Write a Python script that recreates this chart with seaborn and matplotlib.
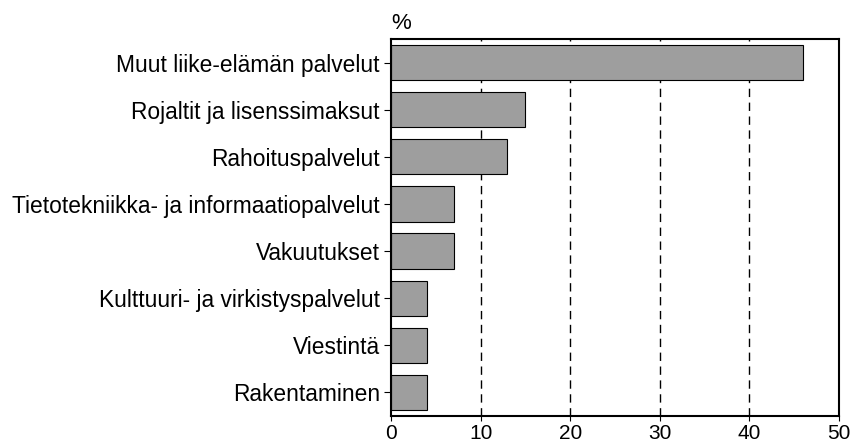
import pandas as pd
import seaborn as sns
import matplotlib.pyplot as plt

# data
categories = [
    "Muut liike-elämän palvelut",
    "Rojaltit ja lisenssimaksut",
    "Rahoituspalvelut",
    "Tietotekniikka- ja informaatiopalvelut",
    "Vakuutukset",
    "Kulttuuri- ja virkistyspalvelut",
    "Viestintä",
    "Rakentaminen",
]
values = [46, 15, 13, 7, 7, 4, 4, 4]
x_ticks = [0, 10, 20, 30, 40, 50]

df = pd.DataFrame({"category": categories, "share": values})

sns.set_style("white")
plt.rcParams["font.family"] = ["Liberation Sans", "DejaVu Sans"]
plt.rcParams["text.color"] = "black"
plt.rcParams["xtick.color"] = "black"
plt.rcParams["ytick.color"] = "black"

fig = plt.figure(figsize=(8.54, 4.47), dpi=100)
ax = fig.add_axes([391 / 854, 1 - 416 / 447, 448 / 854, 377 / 447])

sns.barplot(data=df, x="share", y="category", color="#9e9e9e",
            edgecolor="black", linewidth=0.8, width=0.75, saturation=1, ax=ax)

# dashed vertical grid lines
for t in x_ticks[1:-1]:
    ax.axvline(t, color="black", linestyle=(0, (6, 4)), linewidth=1.0, zorder=0)

ax.set_xlim(0, 50)
ax.set_xticks(x_ticks)
ax.set_xlabel("")
ax.set_ylabel("")
ax.tick_params(axis="x", labelsize=15, length=3.5, direction="out", pad=2)
ax.tick_params(axis="y", labelsize=16.4, length=5, direction="out", left=True, pad=3)
ax.xaxis.tick_bottom()

for side in ax.spines.values():
    side.set_color("black")
    side.set_linewidth(1.5)

ax.text(0, 1.012, "%", transform=ax.transAxes, fontsize=16, ha="left", va="bottom")

fig.savefig("out.png", dpi=100)
